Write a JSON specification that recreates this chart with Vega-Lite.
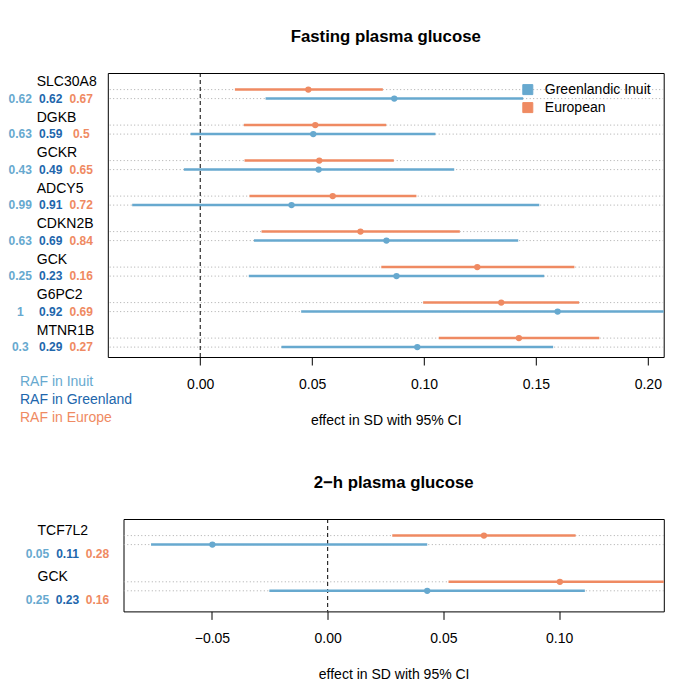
{
  "$schema": "https://vega.github.io/schema/vega-lite/v6.json",
  "padding": {"top": 28, "left": 5, "right": 5, "bottom": 5},
  "background": "white",
  "config": {
    "font": "Liberation Sans",
    "view": {"stroke": "black", "strokeWidth": 1},
    "axisX": {"labelFontSize": 14, "titleFontSize": 14, "titleFontWeight": "normal", "labelColor": "black", "titleColor": "black", "tickColor": "black", "tickSize": 8, "domain": false, "grid": false, "labelPadding": 12, "titlePadding": 22, "labelFlush": false, "format": ".2f"},
    "title": {"fontSize": 16.8, "fontWeight": "bold", "anchor": "middle", "color": "black", "offset": 27}
  },
  "datasets": {
    "fpg": [
      {"gene": "SLC30A8", "pop": "European", "lo": 0.0155, "est": 0.0483, "hi": 0.0816},
      {"gene": "SLC30A8", "pop": "Greenlandic Inuit", "lo": 0.0292, "est": 0.0867, "hi": 0.1443},
      {"gene": "DGKB", "pop": "European", "lo": 0.0195, "est": 0.0514, "hi": 0.0831},
      {"gene": "DGKB", "pop": "Greenlandic Inuit", "lo": -0.0043, "est": 0.0505, "hi": 0.1051},
      {"gene": "GCKR", "pop": "European", "lo": 0.0198, "est": 0.0532, "hi": 0.0865},
      {"gene": "GCKR", "pop": "Greenlandic Inuit", "lo": -0.0073, "est": 0.0529, "hi": 0.1135},
      {"gene": "ADCY5", "pop": "European", "lo": 0.0220, "est": 0.0592, "hi": 0.0966},
      {"gene": "ADCY5", "pop": "Greenlandic Inuit", "lo": -0.0304, "est": 0.0408, "hi": 0.1515},
      {"gene": "CDKN2B", "pop": "European", "lo": 0.0274, "est": 0.0716, "hi": 0.1160},
      {"gene": "CDKN2B", "pop": "Greenlandic Inuit", "lo": 0.0240, "est": 0.0832, "hi": 0.1421},
      {"gene": "GCK", "pop": "European", "lo": 0.0809, "est": 0.1238, "hi": 0.1672},
      {"gene": "GCK", "pop": "Greenlandic Inuit", "lo": 0.0217, "est": 0.0877, "hi": 0.1537},
      {"gene": "G6PC2", "pop": "European", "lo": 0.0996, "est": 0.1345, "hi": 0.1693},
      {"gene": "G6PC2", "pop": "Greenlandic Inuit", "lo": 0.0451, "est": 0.1597, "hi": 0.2743},
      {"gene": "MTNR1B", "pop": "European", "lo": 0.1066, "est": 0.1424, "hi": 0.1783},
      {"gene": "MTNR1B", "pop": "Greenlandic Inuit", "lo": 0.0363, "est": 0.0970, "hi": 0.1577}
    ],
    "fpg_raf": [
      {"gene": "SLC30A8", "col": "RAF in Inuit", "raf": 0.62},
      {"gene": "SLC30A8", "col": "RAF in Greenland", "raf": 0.62},
      {"gene": "SLC30A8", "col": "RAF in Europe", "raf": 0.67},
      {"gene": "DGKB", "col": "RAF in Inuit", "raf": 0.63},
      {"gene": "DGKB", "col": "RAF in Greenland", "raf": 0.59},
      {"gene": "DGKB", "col": "RAF in Europe", "raf": 0.5},
      {"gene": "GCKR", "col": "RAF in Inuit", "raf": 0.43},
      {"gene": "GCKR", "col": "RAF in Greenland", "raf": 0.49},
      {"gene": "GCKR", "col": "RAF in Europe", "raf": 0.65},
      {"gene": "ADCY5", "col": "RAF in Inuit", "raf": 0.99},
      {"gene": "ADCY5", "col": "RAF in Greenland", "raf": 0.91},
      {"gene": "ADCY5", "col": "RAF in Europe", "raf": 0.72},
      {"gene": "CDKN2B", "col": "RAF in Inuit", "raf": 0.63},
      {"gene": "CDKN2B", "col": "RAF in Greenland", "raf": 0.69},
      {"gene": "CDKN2B", "col": "RAF in Europe", "raf": 0.84},
      {"gene": "GCK", "col": "RAF in Inuit", "raf": 0.25},
      {"gene": "GCK", "col": "RAF in Greenland", "raf": 0.23},
      {"gene": "GCK", "col": "RAF in Europe", "raf": 0.16},
      {"gene": "G6PC2", "col": "RAF in Inuit", "raf": 1},
      {"gene": "G6PC2", "col": "RAF in Greenland", "raf": 0.92},
      {"gene": "G6PC2", "col": "RAF in Europe", "raf": 0.69},
      {"gene": "MTNR1B", "col": "RAF in Inuit", "raf": 0.3},
      {"gene": "MTNR1B", "col": "RAF in Greenland", "raf": 0.29},
      {"gene": "MTNR1B", "col": "RAF in Europe", "raf": 0.27}
    ],
    "ohg": [
      {"gene": "TCF7L2", "pop": "European", "lo": 0.0279, "est": 0.0675, "hi": 0.1071},
      {"gene": "TCF7L2", "pop": "Greenlandic Inuit", "lo": -0.0763, "est": -0.0498, "hi": 0.0430},
      {"gene": "GCK", "pop": "European", "lo": 0.0522, "est": 0.1003, "hi": 0.1484},
      {"gene": "GCK", "pop": "Greenlandic Inuit", "lo": -0.0252, "est": 0.0430, "hi": 0.1111}
    ],
    "ohg_raf": [
      {"gene": "TCF7L2", "col": "RAF in Inuit", "raf": 0.05},
      {"gene": "TCF7L2", "col": "RAF in Greenland", "raf": 0.11},
      {"gene": "TCF7L2", "col": "RAF in Europe", "raf": 0.28},
      {"gene": "GCK", "col": "RAF in Inuit", "raf": 0.25},
      {"gene": "GCK", "col": "RAF in Greenland", "raf": 0.23},
      {"gene": "GCK", "col": "RAF in Europe", "raf": 0.16}
    ]
  },
  "vconcat": [
    {
      "hconcat": [
        {
          "width": 91.5,
          "height": 284,
          "view": {"stroke": null},
          "data": {"name": "fpg_raf"},
          "layer": [
            {
              "mark": {"type": "text", "fontSize": 12, "fontWeight": "bold", "baseline": "middle", "dy": 7.9},
              "encoding": {
                "x": {"field": "col", "type": "nominal", "scale": {"type": "point", "domain": ["RAF in Inuit", "RAF in Greenland", "RAF in Europe"], "padding": 0.5}, "axis": null},
                "y": {"field": "gene", "type": "nominal", "scale": {"domain": ["SLC30A8", "DGKB", "GCKR", "ADCY5", "CDKN2B", "GCK", "G6PC2", "MTNR1B"], "paddingInner": 0, "paddingOuter": 0}, "axis": null},
                "text": {"field": "raf", "type": "nominal"},
                "color": {
                  "field": "col", "type": "nominal",
                  "scale": {"domain": ["RAF in Inuit", "RAF in Greenland", "RAF in Europe"], "range": ["#67a9cf", "#2166ac", "#ef8a62"]},
                  "legend": {
                    "title": null, "orient": "none", "legendX": 1, "legendY": 302, "padding": 0,
                    "symbolSize": 0, "symbolOpacity": 0, "symbolStrokeWidth": 0, "labelOffset": 0,
                    "labelFontSize": 14, "rowPadding": 4, "labelLimit": 300,
                    "encode": {"labels": {"update": {"fill": {"signal": "datum.label == 'RAF in Inuit' ? '#67a9cf' : datum.label == 'RAF in Greenland' ? '#2166ac' : '#ef8a62'"}}}}
                  }
                }
              }
            },
            {
              "transform": [{"filter": "datum.col == 'RAF in Inuit'"}],
              "mark": {"type": "text", "fontSize": 14, "align": "left", "baseline": "middle", "color": "black", "dx": -14, "dy": -8.7},
              "encoding": {
                "x": {"datum": "RAF in Greenland", "type": "nominal"},
                "y": {"field": "gene", "type": "nominal"},
                "text": {"field": "gene", "type": "nominal"}
              }
            }
          ]
        },
        {
          "width": 555.9,
          "height": 284,
          "title": {"text": "Fasting plasma glucose"},
          "data": {"name": "fpg"},
          "layer": [
            {
              "mark": {"type": "rule", "strokeDash": [1, 2.5], "color": "#aaaaaa", "strokeWidth": 1},
              "encoding": {
                "y": {"field": "gene", "type": "nominal", "scale": {"domain": ["SLC30A8", "DGKB", "GCKR", "ADCY5", "CDKN2B", "GCK", "G6PC2", "MTNR1B"], "paddingInner": 0, "paddingOuter": 0}, "axis": null},
                "yOffset": {"field": "pop", "type": "nominal", "scale": {"type": "point", "domain": ["European", "Greenlandic Inuit"], "range": [16.6, 25.6], "padding": 0}}
              }
            },
            {
              "data": {"values": [{"z": 0}]},
              "mark": {"type": "rule", "strokeDash": [4, 3], "color": "black", "strokeWidth": 1},
              "encoding": {"x": {"field": "z", "type": "quantitative", "title": "effect in SD with 95% CI"}}
            },
            {
              "mark": {"type": "rule", "strokeWidth": 2.5, "clip": true},
              "encoding": {
                "x": {"field": "lo", "type": "quantitative", "scale": {"domain": [-0.0413, 0.2071], "nice": false, "zero": false}, "axis": {"values": [0, 0.05, 0.1, 0.15, 0.2]}, "title": "effect in SD with 95% CI"},
                "x2": {"field": "hi"},
                "y": {"field": "gene", "type": "nominal"},
                "yOffset": {"field": "pop", "type": "nominal"},
                "color": {
                  "field": "pop", "type": "nominal",
                  "scale": {"domain": ["Greenlandic Inuit", "European"], "range": ["#67a9cf", "#ef8a62"]},
                  "legend": {"title": null, "orient": "none", "legendX": 413, "legendY": 9.6, "padding": 0, "symbolType": "square", "symbolSize": 100, "labelFontSize": 14, "labelColor": "black", "labelOffset": 10, "rowPadding": 4,
                    "encode": {"symbols": {"update": {"stroke": {"value": "#333333"}, "strokeWidth": {"value": 1}}}}}
                }
              }
            },
            {
              "mark": {"type": "point", "filled": true, "size": 40, "opacity": 1},
              "encoding": {
                "x": {"field": "est", "type": "quantitative", "title": "effect in SD with 95% CI"},
                "y": {"field": "gene", "type": "nominal"},
                "yOffset": {"field": "pop", "type": "nominal"},
                "color": {"field": "pop", "type": "nominal"}
              }
            }
          ]
        }
      ],
      "spacing": 10.8,
      "bounds": "flush",
      "resolve": {"scale": {"color": "independent"}, "legend": {"color": "independent"}}
    },
    {
      "hconcat": [
        {
          "width": 92.5,
          "height": 92.4,
          "view": {"stroke": null},
          "data": {"name": "ohg_raf"},
          "layer": [
            {
              "mark": {"type": "text", "fontSize": 12, "fontWeight": "bold", "baseline": "middle", "dy": 11.6},
              "encoding": {
                "x": {"field": "col", "type": "nominal", "scale": {"type": "point", "domain": ["RAF in Inuit", "RAF in Greenland", "RAF in Europe"], "padding": 0.542, "align": 1}, "axis": null},
                "y": {"field": "gene", "type": "nominal", "scale": {"domain": ["TCF7L2", "GCK"], "paddingInner": 0, "paddingOuter": 0}, "axis": null},
                "text": {"field": "raf", "type": "nominal"},
                "color": {"field": "col", "type": "nominal", "scale": {"domain": ["RAF in Inuit", "RAF in Greenland", "RAF in Europe"], "range": ["#67a9cf", "#2166ac", "#ef8a62"]}, "legend": null}
              }
            },
            {
              "transform": [{"filter": "datum.col == 'RAF in Inuit'"}],
              "mark": {"type": "text", "fontSize": 14, "align": "left", "baseline": "middle", "color": "black", "dx": 0, "dy": -11.1},
              "encoding": {
                "x": {"datum": "RAF in Inuit", "type": "nominal"},
                "y": {"field": "gene", "type": "nominal"},
                "text": {"field": "gene", "type": "nominal"}
              }
            }
          ]
        },
        {
          "width": 540.3,
          "height": 92.4,
          "title": {"text": "2−h plasma glucose"},
          "data": {"name": "ohg"},
          "layer": [
            {
              "mark": {"type": "rule", "strokeDash": [1, 2.5], "color": "#aaaaaa", "strokeWidth": 1},
              "encoding": {
                "y": {"field": "gene", "type": "nominal", "scale": {"domain": ["TCF7L2", "GCK"], "paddingInner": 0, "paddingOuter": 0}, "axis": null},
                "yOffset": {"field": "pop", "type": "nominal", "scale": {"type": "point", "domain": ["European", "Greenlandic Inuit"], "range": [22.7, 34.6], "padding": 0}}
              }
            },
            {
              "data": {"values": [{"z": 0}]},
              "mark": {"type": "rule", "strokeDash": [4, 3], "color": "black", "strokeWidth": 1},
              "encoding": {"x": {"field": "z", "type": "quantitative", "title": "effect in SD with 95% CI"}}
            },
            {
              "mark": {"type": "rule", "strokeWidth": 2.5, "clip": true},
              "encoding": {
                "x": {"field": "lo", "type": "quantitative", "scale": {"domain": [-0.0882, 0.1452], "nice": false, "zero": false}, "axis": {"values": [-0.05, 0, 0.05, 0.1]}, "title": "effect in SD with 95% CI"},
                "x2": {"field": "hi"},
                "y": {"field": "gene", "type": "nominal"},
                "yOffset": {"field": "pop", "type": "nominal"},
                "color": {"field": "pop", "type": "nominal", "scale": {"domain": ["Greenlandic Inuit", "European"], "range": ["#67a9cf", "#ef8a62"]}, "legend": null}
              }
            },
            {
              "mark": {"type": "point", "filled": true, "size": 40, "opacity": 1},
              "encoding": {
                "x": {"field": "est", "type": "quantitative", "title": "effect in SD with 95% CI"},
                "y": {"field": "gene", "type": "nominal"},
                "yOffset": {"field": "pop", "type": "nominal"},
                "color": {"field": "pop", "type": "nominal"}
              }
            }
          ]
        }
      ],
      "spacing": 25.5,
      "bounds": "flush",
      "resolve": {"scale": {"color": "independent"}, "legend": {"color": "independent"}}
    }
  ],
  "spacing": 46,
  "resolve": {"scale": {"color": "independent"}, "legend": {"color": "independent"}}
}
